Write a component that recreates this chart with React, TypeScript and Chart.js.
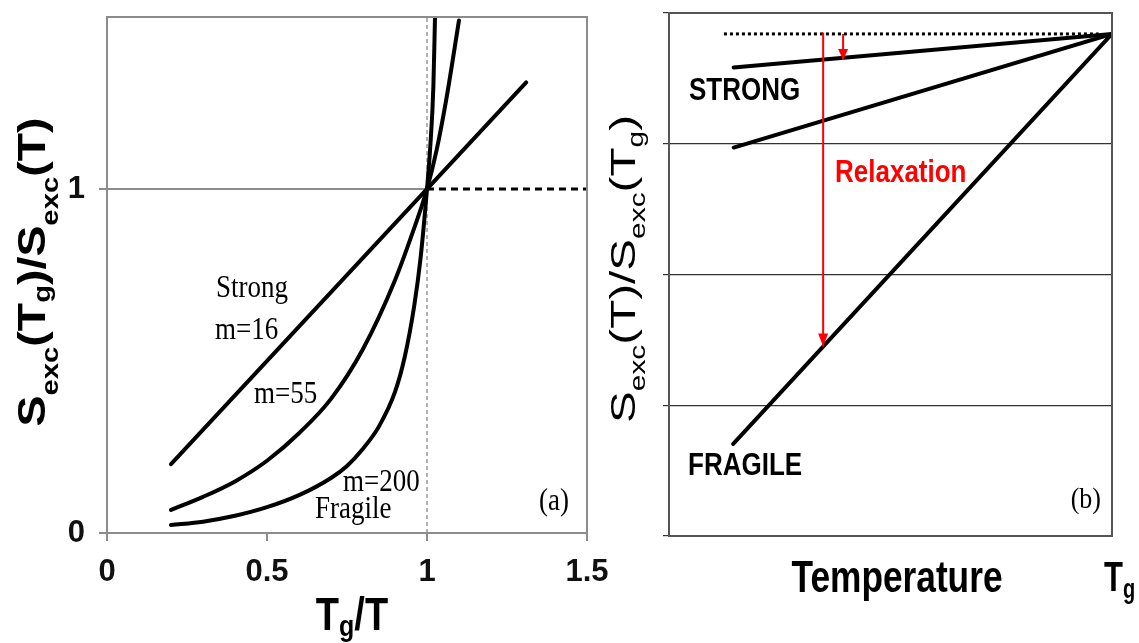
import React, { useEffect, useRef } from "react";
import { Chart, registerables } from "chart.js";
Chart.register(...registerables);

const W = 1139;
const H = 643;
const SANS = '"Liberation Sans", Arial, sans-serif';
const SERIF = '"Liberation Serif", "Times New Roman", serif';

// ---------- Panel (a) data ----------
const aXTicks = [0, 0.5, 1, 1.5];
const aXTickLabels = ["0", "0.5", "1", "1.5"];
const aYTicks = [0, 1];
const aYTickLabels = ["0", "1"];
const strongX = [0.2, 1.31];
const strongY = [0.2, 1.31];
const m55X = [0.2, 0.3, 0.4, 0.5, 0.6, 0.7, 0.8, 0.9, 0.95, 1.0, 1.03, 1.06, 1.1];
const m55Y = [0.067, 0.105, 0.15, 0.21, 0.29, 0.39, 0.535, 0.735, 0.86, 1.0, 1.113, 1.259, 1.49];
const m200X = [0.2, 0.3, 0.4, 0.5, 0.6, 0.7, 0.75, 0.8, 0.85, 0.9, 0.93, 0.96, 0.98, 1.0, 1.01, 1.02, 1.025];
const m200Y = [0.023, 0.033, 0.05, 0.075, 0.11, 0.16, 0.195, 0.245, 0.31, 0.41, 0.51, 0.66, 0.8, 1.0, 1.12, 1.3, 1.5];
const refOneX = [0, 1];
const refOneY = [1, 1];
const refDashX = [1, 1.5];
const refDashY = [1, 1];
const vRefX = [1, 1];
const vRefY = [0, 1.5];

// ---------- Panel (b) data ----------
const bYTicks = [0, 1, 2, 3, 4];
const bStrongX = [14.6, 100];
const bStrongY = [3.583, 3.84];
const bMidX = [14.6, 100];
const bMidY = [2.971, 3.84];
const bFragileX = [14.5, 100];
const bFragileY = [0.704, 3.84];
const bRefX = [12.4, 97];
const bRefY = [3.84, 3.84];
const bRelaxX = [34.8, 34.8];
const bRelaxY = [3.85, 1.45];
const bSmallX = [39.3, 39.3];
const bSmallY = [3.84, 3.64];

const pts = (xs: number[], ys: number[]) => xs.map((x, i) => ({ x, y: ys[i] }));

type Part = { t: string; size: number; bold?: boolean; family: string; dy?: number };

function drawParts(
  ctx: CanvasRenderingContext2D,
  parts: Part[],
  x: number,
  y: number,
  opts: { rot?: number; align?: "left" | "center" | "right"; sx?: number; sy?: number; len?: number; color?: string }
) {
  const fontOf = (p: Part) => `${p.bold ? "bold " : ""}${p.size}px ${p.family}`;
  ctx.save();
  let total = 0;
  const widths = parts.map((p) => {
    ctx.font = fontOf(p);
    const w = ctx.measureText(p.t).width;
    total += w;
    return w;
  });
  let sx = opts.sx ?? 1;
  if (opts.len) sx = opts.len / total;
  const sy = opts.sy ?? 1;
  ctx.translate(x, y);
  ctx.rotate(opts.rot ?? 0);
  ctx.scale(sx, sy);
  ctx.fillStyle = opts.color ?? "#000";
  ctx.textBaseline = "alphabetic";
  ctx.textAlign = "left";
  const align = opts.align ?? "left";
  let cx = align === "left" ? 0 : align === "center" ? -total / 2 : -total;
  parts.forEach((p, i) => {
    ctx.font = fontOf(p);
    ctx.fillText(p.t, cx, p.dy ?? 0);
    cx += widths[i];
  });
  ctx.restore();
}

const framePlugin = (color: string, width: number) => ({
  id: "frame",
  afterDatasetsDraw(chart: any) {
    const { ctx, chartArea: a } = chart;
    ctx.save();
    ctx.strokeStyle = color;
    ctx.lineWidth = width;
    ctx.strokeRect(a.left, a.top, a.right - a.left, a.bottom - a.top);
    ctx.restore();
  },
});

const noPad = (s: any) => {
  s.paddingTop = 0;
  s.paddingBottom = 0;
  s.paddingLeft = 0;
  s.paddingRight = 0;
};

const textA = {
  id: "textA",
  afterDraw(chart: any) {
    const ctx = chart.ctx as CanvasRenderingContext2D;
    const big = 38;
    const sub = 24;
    drawParts(
      ctx,
      [
        { t: "S", size: big, bold: true, family: SANS },
        { t: "exc", size: sub, bold: true, family: SANS, dy: 13 },
        { t: "(T", size: big, bold: true, family: SANS },
        { t: "g", size: sub, bold: true, family: SANS, dy: 5 },
        { t: ")/S", size: big, bold: true, family: SANS },
        { t: "exc", size: sub, bold: true, family: SANS, dy: 13 },
        { t: "(T)", size: big, bold: true, family: SANS },
      ],
      45,
      272,
      { rot: -Math.PI / 2, align: "center", len: 309 }
    );
    drawParts(
      ctx,
      [
        { t: "T", size: 38, bold: true, family: SANS },
        { t: "g", size: 25, bold: true, family: SANS, dy: 5 },
        { t: "/T", size: 38, bold: true, family: SANS },
      ],
      352,
      630,
      { align: "center", sy: 1.2 }
    );
    const serif = (t: string, x: number, y: number, align: "left" | "right" = "left") =>
      drawParts(ctx, [{ t, size: 27, family: SERIF }], x, y, { align, sy: 1.2 });
    serif("Strong", 216, 297);
    serif("m=16", 215, 339);
    serif("m=55", 254, 403);
    serif("m=200", 343, 491);
    serif("Fragile", 315, 518);
    serif("(a)", 569, 510, "right");
  },
};

const textB = {
  id: "textB",
  afterDraw(chart: any) {
    const ctx = chart.ctx as CanvasRenderingContext2D;
    const big = 35;
    const sub = 22;
    drawParts(
      ctx,
      [
        { t: "S", size: big, family: SANS },
        { t: "exc", size: sub, family: SANS, dy: 10 },
        { t: "(T)/S", size: big, family: SANS },
        { t: "exc", size: sub, family: SANS, dy: 10 },
        { t: "(T", size: big, family: SANS },
        { t: "g", size: sub, family: SANS, dy: 8 },
        { t: ")", size: big, family: SANS },
      ],
      635,
      269,
      { rot: -Math.PI / 2, align: "center", len: 308 }
    );
    const lab = (t: string, x: number, y: number, color = "#000") =>
      drawParts(ctx, [{ t, size: 26, bold: true, family: SANS }], x, y, { sy: 1.2, color });
    lab("STRONG", 689, 100);
    lab("Relaxation", 835, 182, "#ff0000");
    lab("FRAGILE", 688, 475);
    drawParts(ctx, [{ t: "(b)", size: 26, family: SERIF }], 1101, 508, { align: "right", sy: 1.15 });
    drawParts(ctx, [{ t: "Temperature", size: 35, bold: true, family: SANS }], 897, 592, {
      align: "center",
      len: 211,
      sy: 1.25,
    });
    drawParts(
      ctx,
      [
        { t: "T", size: 31, bold: true, family: SANS },
        { t: "g", size: 20, bold: true, family: SANS, dy: 5 },
      ],
      1104,
      591,
      { sy: 1.4 }
    );
  },
};

const arrowPlugin = {
  id: "arrows",
  afterDatasetsDraw(chart: any) {
    const ctx = chart.ctx as CanvasRenderingContext2D;
    chart.data.datasets.forEach((ds: any, i: number) => {
      if (!ds.arrow) return;
      const meta = chart.getDatasetMeta(i);
      const n = meta.data.length;
      const tip = meta.data[n - 1];
      const prev = meta.data[n - 2];
      const ang = Math.atan2(tip.y - prev.y, tip.x - prev.x);
      const L = ds.arrowLen ?? 12;
      const hw = ds.arrowHalf ?? 5;
      ctx.save();
      ctx.translate(tip.x, tip.y);
      ctx.rotate(ang);
      ctx.fillStyle = ds.borderColor;
      ctx.beginPath();
      ctx.moveTo(0, 0);
      ctx.lineTo(-L, -hw);
      ctx.lineTo(-L, hw);
      ctx.closePath();
      ctx.fill();
      ctx.restore();
    });
  },
};

function cfgA(): any {
  const curve = (xs: number[], ys: number[], smooth: boolean) => ({
    data: pts(xs, ys),
    borderColor: "#000",
    borderWidth: 4,
    pointRadius: 0,
    fill: false,
    borderCapStyle: "round",
    cubicInterpolationMode: smooth ? "monotone" : "default",
    tension: smooth ? 0.4 : 0,
  });
  const tickFont = { family: SANS, size: 31, weight: "bold" as const };
  return {
    type: "line",
    data: {
      datasets: [
        curve(strongX, strongY, false),
        curve(m55X, m55Y, true),
        curve(m200X, m200Y, true),
        { data: pts(refDashX, refDashY), borderColor: "#000", borderWidth: 3, borderDash: [7, 5], pointRadius: 0 },
        { data: pts(refOneX, refOneY), borderColor: "#8c8c8c", borderWidth: 2, pointRadius: 0 },
        { data: pts(vRefX, vRefY), borderColor: "#999", borderWidth: 1.5, borderDash: [4, 3], pointRadius: 0 },
      ],
    },
    options: {
      responsive: false,
      animation: false,
      layout: { padding: { left: 0, top: 17, right: W - 587, bottom: 0 } },
      plugins: { legend: { display: false }, tooltip: { enabled: false } },
      scales: {
        x: {
          type: "linear",
          min: 0,
          max: 1.5,
          afterBuildTicks: (s: any) => {
            s.ticks = aXTicks.map((v) => ({ value: v }));
          },
          ticks: {
            callback: (_v: any, i: number) => aXTickLabels[i],
            font: tickFont,
            color: "#111",
            padding: 13,
            maxRotation: 0,
            autoSkip: false,
          },
          grid: { drawOnChartArea: false, drawTicks: true, tickLength: 8, color: "#8c8c8c", lineWidth: 2 },
          border: { display: false },
          afterFit: (s: any) => {
            s.height = 110;
            noPad(s);
          },
        },
        y: {
          type: "linear",
          min: 0,
          max: 1.5,
          afterBuildTicks: (s: any) => {
            s.ticks = aYTicks.map((v) => ({ value: v }));
          },
          ticks: {
            callback: (_v: any, i: number) => aYTickLabels[i],
            font: tickFont,
            color: "#111",
            padding: 14,
            autoSkip: false,
          },
          grid: { drawOnChartArea: false, drawTicks: true, tickLength: 8, color: "#8c8c8c", lineWidth: 2 },
          border: { display: false },
          afterFit: (s: any) => {
            s.width = 107;
            noPad(s);
          },
        },
      },
    },
    plugins: [framePlugin("#8c8c8c", 2), textA],
  };
}

function cfgB(): any {
  const line = (xs: number[], ys: number[]) => ({
    data: pts(xs, ys),
    borderColor: "#000",
    borderWidth: 4,
    pointRadius: 0,
    fill: false,
    borderCapStyle: "round",
  });
  return {
    type: "line",
    data: {
      datasets: [
        { data: pts(bRelaxX, bRelaxY), borderColor: "#ff0000", borderWidth: 2, pointRadius: 0, arrow: true, arrowLen: 13, arrowHalf: 5 },
        { data: pts(bSmallX, bSmallY), borderColor: "#ff0000", borderWidth: 2, pointRadius: 0, arrow: true, arrowLen: 11, arrowHalf: 5 },
        line(bStrongX, bStrongY),
        line(bMidX, bMidY),
        line(bFragileX, bFragileY),
        { data: pts(bRefX, bRefY), borderColor: "#000", borderWidth: 3, borderDash: [3, 3], pointRadius: 0 },
      ],
    },
    options: {
      responsive: false,
      animation: false,
      layout: { padding: { left: 590, top: 13, right: W - 1112, bottom: 0 } },
      plugins: { legend: { display: false }, tooltip: { enabled: false } },
      scales: {
        x: {
          type: "linear",
          min: 0,
          max: 100,
          ticks: { display: false },
          grid: { display: false },
          border: { display: false },
          afterFit: (s: any) => {
            s.height = 107;
            noPad(s);
          },
        },
        y: {
          type: "linear",
          min: 0,
          max: 4,
          afterBuildTicks: (s: any) => {
            s.ticks = bYTicks.map((v) => ({ value: v }));
          },
          ticks: { display: false },
          grid: { drawOnChartArea: true, drawTicks: true, tickLength: 6, color: "#333", lineWidth: 1.2 },
          border: { display: false },
          afterFit: (s: any) => {
            s.width = 79;
            noPad(s);
          },
        },
      },
    },
    plugins: [framePlugin("#555", 2), arrowPlugin, textB],
  };
}

export default function App() {
  const refA = useRef<HTMLCanvasElement>(null);
  const refB = useRef<HTMLCanvasElement>(null);
  useEffect(() => {
    const a = new Chart(refA.current as HTMLCanvasElement, cfgA());
    const b = new Chart(refB.current as HTMLCanvasElement, cfgB());
    return () => {
      a.destroy();
      b.destroy();
    };
  }, []);
  return (
    <div style={{ position: "fixed", left: 0, top: 0, width: W, height: H, background: "#fff" }}>
      <canvas ref={refA} width={W} height={H} style={{ position: "absolute", left: 0, top: 0 }} />
      <canvas ref={refB} width={W} height={H} style={{ position: "absolute", left: 0, top: 0 }} />
    </div>
  );
}
